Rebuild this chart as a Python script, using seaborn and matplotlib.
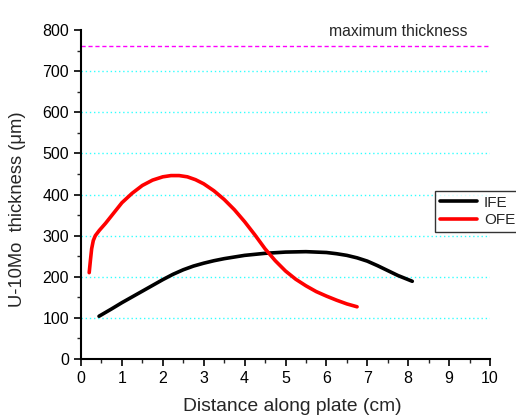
import matplotlib
matplotlib.use("Agg")
import matplotlib.pyplot as plt
import seaborn as sns
import pandas as pd
from matplotlib.ticker import MultipleLocator

ife_x = [0.44, 0.75, 1.0, 1.25, 1.5, 1.75, 2.0, 2.25, 2.5, 2.75, 3.0, 3.25, 3.5, 3.75, 4.0, 4.5, 5.0,
         5.5, 6.0, 6.25, 6.5, 6.75, 7.0, 7.25, 7.5, 7.75, 8.1]
ife_y = [104, 122, 137, 151, 165, 179, 193, 206, 217, 226, 233, 239, 244, 248, 252, 257, 260,
         261, 259, 256, 252, 246, 238, 227, 215, 203, 189]
ofe_x = [0.2, 0.23, 0.26, 0.3, 0.35, 0.45, 0.6, 0.8, 1.0, 1.25, 1.5, 1.75, 2.0, 2.2, 2.4, 2.6, 2.8, 3.0,
         3.25, 3.5, 3.75, 4.0, 4.25, 4.5, 4.75, 5.0, 5.25, 5.5, 5.75, 6.0, 6.25, 6.5, 6.75]
ofe_y = [210, 240, 268, 288, 300, 313, 330, 355, 380, 403, 422, 435, 443, 446, 446, 443, 436, 426,
         409, 388, 363, 334, 302, 268, 239, 214, 194, 178, 164, 153, 143, 134, 127]
grid_levels = [100, 200, 300, 400, 500, 600, 700]
max_thickness = 762
x_ticks = list(range(0, 11))
y_ticks = list(range(0, 801, 100))

sns.set_style("ticks")
plt.rcParams['font.family'] = ['Liberation Sans', 'DejaVu Sans']

df = pd.concat([
    pd.DataFrame({"x": ife_x, "y": ife_y, "series": "IFE"}),
    pd.DataFrame({"x": ofe_x, "y": ofe_y, "series": "OFE"}),
])

fig = plt.figure(figsize=(5.16, 4.2), dpi=100)
ax = fig.add_axes([0.157, 0.1452, 0.7926, 0.7834])

for g in grid_levels:
    ax.axhline(g, color="#33ffff", linestyle=(0, (1, 2)), linewidth=1.0, zorder=0)
ax.axhline(max_thickness, color="#ff00ff", linestyle=(0, (3, 2)), linewidth=1.0, zorder=0)

sns.lineplot(data=df, x="x", y="y", hue="series", palette={"IFE": "black", "OFE": "#ff0000"},
             linewidth=2.6, sort=False, ax=ax, estimator=None)

ax.set_xlim(0, 10)
ax.set_ylim(0, 800)
ax.set_xticks(x_ticks)
ax.set_yticks(y_ticks)
ax.xaxis.set_minor_locator(MultipleLocator(0.5))
ax.yaxis.set_minor_locator(MultipleLocator(50))
ax.tick_params(axis="both", which="major", direction="out", length=5, width=1.2, labelsize=11.5, colors="black")
ax.tick_params(axis="both", which="minor", direction="out", length=3, width=1.0)
for s in ["top", "right"]:
    ax.spines[s].set_visible(False)
for s in ["left", "bottom"]:
    ax.spines[s].set_linewidth(1.5)
    ax.spines[s].set_color("black")

ax.set_xlabel("Distance along plate (cm)", fontsize=13.9)
ax.set_ylabel("U-10Mo  thickness (\u03bcm)", fontsize=13.2)
ax.xaxis.set_label_coords(0.517, -0.119)
ax.yaxis.set_label_coords(-0.134, 0.454)

ax.text(0.944, 786, "maximum thickness", transform=ax.get_yaxis_transform(), ha="right", va="baseline", fontsize=11.3)

leg = ax.legend(loc="upper left", bbox_to_anchor=(0.8655, 0.5106), frameon=True, fontsize=11,
                handlelength=2.45, borderpad=0.3, labelspacing=0.22, handletextpad=0.45,
                fancybox=False, edgecolor="black", borderaxespad=0)
leg.get_frame().set_linewidth(1.0)

fig.savefig("out.png", dpi=100)
